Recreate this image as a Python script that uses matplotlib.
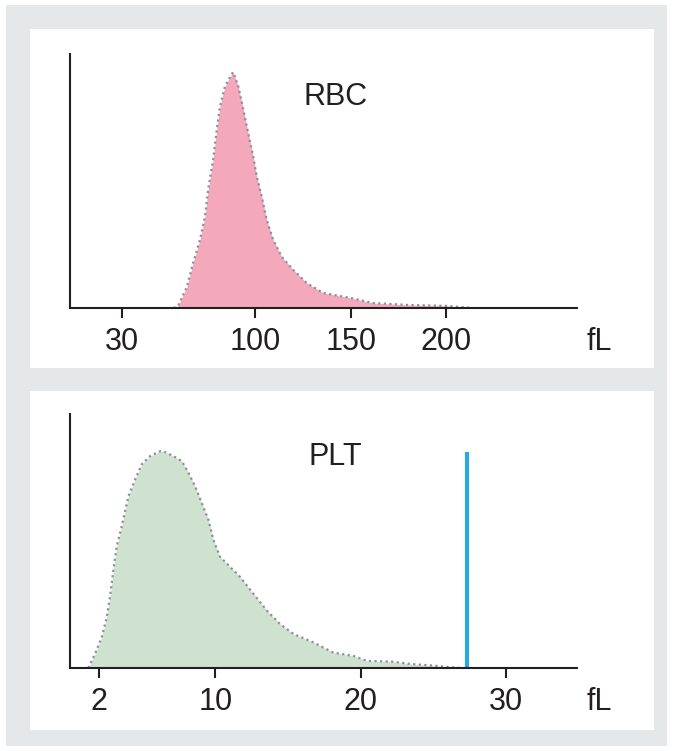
import matplotlib.pyplot as plt
from matplotlib.patches import Rectangle

# ---------------------------------------------------------------------------
# Histogram data (relative height, peak = 100)
# ---------------------------------------------------------------------------
RBC_FL = [57, 59.4, 64, 67.3, 70.9, 73.5, 75.2, 77.8, 79.7, 81.4, 84, 87.5,
          88.3, 91, 93.6, 96.1, 98.8, 100.7, 103.3, 105.9, 109.3, 113.8,
          119.8, 126.9, 135.5, 149.6, 161.8, 180, 200, 214]
RBC_COUNT = [0, 0.9, 8.9, 19.1, 28.9, 38.7, 50.2, 63.0, 75.7, 85.5, 94.0, 99.1,
             100, 94.0, 84.3, 74.5, 64.3, 55.7, 47.2, 37.4, 28.9, 21.7,
             16.2, 10.6, 6.4, 4.3, 2.1, 1.3, 0.9, 0]
RBC_TICKS = [30, 100, 150, 200]

PLT_FL = [1.26, 1.72, 2.18, 2.53, 2.75, 2.98, 3.21, 3.56, 4.02, 4.48, 4.94,
          5.51, 6.2, 6.43, 7.11, 7.69, 8.15, 8.61, 9.07, 9.53, 9.87, 10.33,
          10.79, 11.71, 12.62, 13.55, 14.46, 15.38, 16.76, 18.13, 19.51,
          20.43, 22.27, 23.4, 25.0, 26.9]
PLT_COUNT = [0, 6.5, 14.1, 23.4, 32.7, 45.1, 56.0, 65.3, 79.2, 87.0, 94.0,
             97.8, 100, 100, 97.8, 95.5, 90.1, 83.9, 76.1, 68.4, 59.1, 51.3,
             48.2, 42.0, 34.3, 26.5, 20.3, 15.7, 11.8, 7.1, 5.6,
             3.3, 2.9, 1.9, 1.1, 0]
PLT_TICKS = [2, 10, 20, 30]
PLT_CUTOFF = 27.3
PLT_CUTOFF_TOP = 99.5

W, H = 673, 751
TEXT = "#231f20"
FONT = "Liberation Sans"
FS = 22

plt.rcParams.update({"font.family": FONT})

fig = plt.figure(figsize=(W / 100, H / 100), dpi=100)
fig.patch.set_facecolor("white")


def px_rect(x0, y0, x1, y1, color):
    """Rectangle given in pixel coords (origin top-left)."""
    fig.patches.append(Rectangle((x0 / W, 1 - y1 / H), (x1 - x0) / W, (y1 - y0) / H,
                                 transform=fig.transFigure, facecolor=color,
                                 edgecolor="none", zorder=-10))


def px_axes(x0, y0, x1, y1):
    return fig.add_axes([x0 / W, 1 - y1 / H, (x1 - x0) / W, (y1 - y0) / H])


# background frame and white panels
px_rect(6, 5, 667, 746, "#e6e7e8")
px_rect(30, 29, 654, 368, "white")
px_rect(30, 391, 654, 730, "white")


def style_axes(ax, ticks, name, name_x, name_y):
    ax.set_facecolor("none")
    for side in ("top", "right"):
        ax.spines[side].set_visible(False)
    for side in ("left", "bottom"):
        ax.spines[side].set_linewidth(1.5)
        ax.spines[side].set_color(TEXT)
    ax.set_yticks([])
    ax.set_xticks(ticks)
    ax.set_xticklabels([str(t) for t in ticks])
    ax.tick_params(axis="x", direction="out", length=7.5, width=1.5,
                   color=TEXT, labelsize=FS, labelcolor=TEXT, pad=6.5)
    ax.annotate("fL", xy=(1.045, 0), xycoords="axes fraction",
                xytext=(0, -14), textcoords="offset points",
                ha="center", va="top", fontsize=FS, color=TEXT)
    ax.text(name_x, name_y, name, transform=ax.transAxes, ha="center",
            va="center", fontsize=FS, color=TEXT)


# ---------------- RBC ----------------
ax1 = px_axes(70, 54, 577, 308)
ax1.fill_between(RBC_FL, RBC_COUNT, 0, color="#f3a8bc", linewidth=0)
ax1.plot(RBC_FL, RBC_COUNT, color="#8e909a", linestyle=(0, (1, 1.5)), linewidth=1.6)
ax1.set_xlim(2.7, 268.7)
ax1.set_ylim(0, 107.7)
style_axes(ax1, RBC_TICKS, "RBC", 0.523, 0.83)

# ---------------- PLT ----------------
ax2 = px_axes(70, 414, 577, 668)
ax2.fill_between(PLT_FL, PLT_COUNT, 0, color="#cfe1cf", linewidth=0)
ax2.plot(PLT_FL, PLT_COUNT, color="#8e909a", linestyle=(0, (1, 1.5)), linewidth=1.6)
ax2.vlines(PLT_CUTOFF, 0, PLT_CUTOFF_TOP, color="#29a9e1", linewidth=3)
ax2.set_xlim(0, 34.9)
ax2.set_ylim(0, 117.2)
style_axes(ax2, PLT_TICKS, "PLT", 0.524, 0.83)

fig.savefig("out.png", dpi=100)
